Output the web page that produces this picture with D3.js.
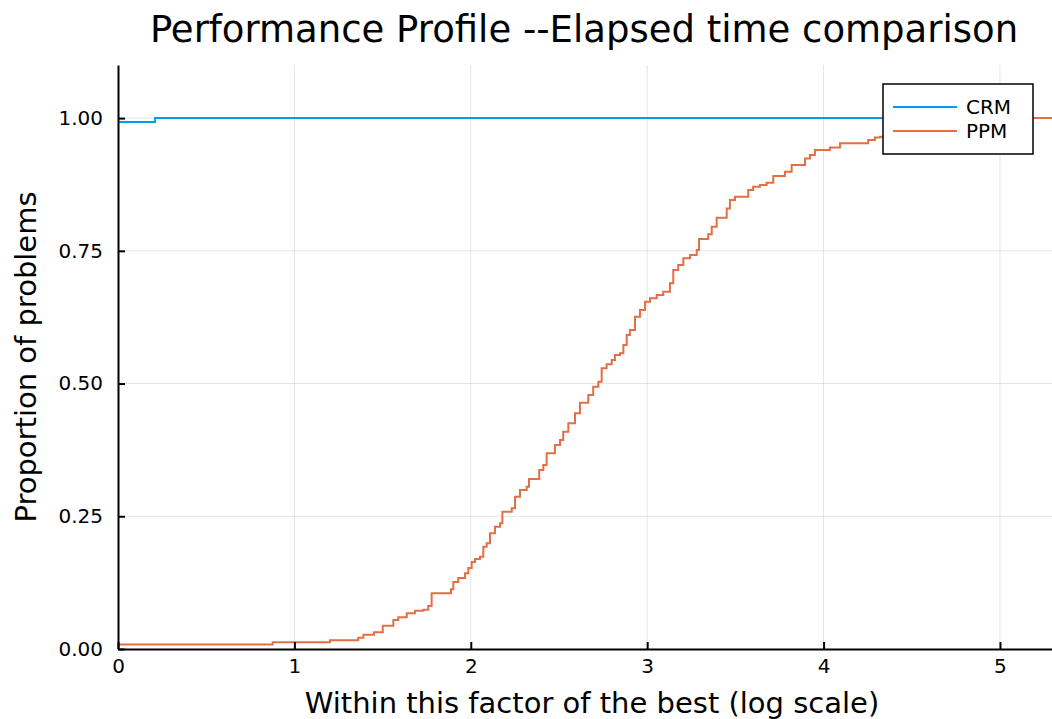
<!DOCTYPE html>
<html>
<head>
<meta charset="utf-8">
<script src="https://cdn.jsdelivr.net/npm/d3@7"></script>
<style>
  html, body { margin: 0; padding: 0; background: #fff; }
  svg { display: block; font-family: "DejaVu Sans", sans-serif; }
</style>
</head>
<body>
<svg id="chart" width="1052" height="719"></svg>
<script>
"use strict";

// ── Data ──────────────────────────────────────────────────────────────────────
const seriesNames = ["CRM", "PPM"];
const seriesColors = ["#009afa", "#e26f46"];

// step starts: log2 factor, proportion solved
const crmX = [0, 0.21];
const crmY = [0.9925, 1.0];

const ppmX = [
  0, 0.877, 1.202, 1.362, 1.391, 1.451, 1.501, 1.561, 1.589, 1.637,
  1.684, 1.731, 1.759, 1.778, 1.888, 1.901, 1.929, 1.967, 1.986, 2.005,
  2.024, 2.052, 2.071, 2.090, 2.109, 2.137, 2.166, 2.179, 2.232, 2.251,
  2.279, 2.317, 2.330, 2.388, 2.411, 2.430, 2.477, 2.506, 2.524, 2.553,
  2.591, 2.619, 2.666, 2.694, 2.723, 2.742, 2.770, 2.799, 2.817, 2.846,
  2.865, 2.884, 2.902, 2.931, 2.959, 2.988, 3.016, 3.054, 3.091, 3.129,
  3.148, 3.176, 3.205, 3.243, 3.281, 3.294, 3.346, 3.366, 3.394, 3.451,
  3.469, 3.498, 3.573, 3.601, 3.639, 3.677, 3.715, 3.781, 3.819, 3.895,
  3.923, 3.951, 4.036, 4.093, 4.253, 4.291, 4.320, 4.388, 4.490, 4.631,
  4.802, 4.972
];
const ppmY = [
  0.0085, 0.0126, 0.0164, 0.0213, 0.0269, 0.0315, 0.0439, 0.0546, 0.0597, 0.0672,
  0.0721, 0.0740, 0.0810, 0.1049, 0.1124, 0.1262, 0.1337, 0.1426, 0.1525, 0.1638,
  0.1695, 0.1738, 0.1927, 0.1991, 0.2179, 0.2303, 0.2367, 0.2586, 0.2650, 0.2868,
  0.2994, 0.3056, 0.3202, 0.3371, 0.3465, 0.3686, 0.3842, 0.3936, 0.4092, 0.4250,
  0.4439, 0.4638, 0.4783, 0.4940, 0.5034, 0.5286, 0.5362, 0.5443, 0.5537, 0.5569,
  0.5725, 0.5913, 0.6008, 0.6258, 0.6384, 0.6541, 0.6605, 0.6667, 0.6729, 0.6887,
  0.7137, 0.7232, 0.7358, 0.7420, 0.7514, 0.7721, 0.7810, 0.7953, 0.8122, 0.8299,
  0.8456, 0.8518, 0.8644, 0.8706, 0.8738, 0.8782, 0.8908, 0.8989, 0.9115, 0.9241,
  0.9303, 0.9397, 0.9448, 0.9524, 0.9586, 0.9636, 0.9648, 0.9718, 0.9774, 0.9849,
  0.9925, 1.0
];

const xTicks = [0, 1, 2, 3, 4, 5];
const yTicks = [0, 0.25, 0.5, 0.75, 1.0];
const xMax = 5.295;
const yMax = 1.1;

const titleText = "Performance Profile --Elapsed time comparison";
const xLabel = "Within this factor of the best (log scale)";
const yLabel = "Proportion of problems";

// ── Layout ────────────────────────────────────────────────────────────────────
const svg = d3.select("#chart");
const M = { left: 118, right: 1052, top: 65, bottom: 649 };

const x = d3.scaleLinear().domain([0, xMax]).range([M.left, M.right]);
const y = d3.scaleLinear().domain([0, yMax]).range([M.bottom, M.top]);

// ── Grid ──
const grid = svg.append("g").attr("class", "grid");
grid.selectAll(".gx").data(xTicks.filter((d) => d > 0)).enter().append("line")
  .attr("x1", (d) => x(d)).attr("x2", (d) => x(d))
  .attr("y1", M.top).attr("y2", M.bottom)
  .attr("stroke", "#000").attr("stroke-opacity", 0.1).attr("stroke-width", 1);
grid.selectAll(".gy").data(yTicks.filter((d) => d > 0)).enter().append("line")
  .attr("x1", M.left).attr("x2", M.right)
  .attr("y1", (d) => y(d)).attr("y2", (d) => y(d))
  .attr("stroke", "#000").attr("stroke-opacity", 0.1).attr("stroke-width", 1);

// ── Series ──
function stepData(xs, ys) {
  const pts = xs.map((v, i) => [v, ys[i]]);
  pts.push([xMax, ys[ys.length - 1]]);
  return pts;
}
const line = d3.line().x((d) => x(d[0])).y((d) => y(d[1])).curve(d3.curveStepAfter);

const series = [stepData(crmX, crmY), stepData(ppmX, ppmY)];
svg.append("g").attr("class", "series")
  .selectAll("path").data(series).enter().append("path")
  .attr("d", line)
  .attr("fill", "none")
  .attr("stroke", (_d, i) => seriesColors[i])
  .attr("stroke-width", 2);

// ── Axes ──
const xAxis = d3.axisBottom(x).tickValues(xTicks).tickFormat(d3.format("d"))
  .tickSizeInner(-7).tickSizeOuter(0).tickPadding(10);
const gx = svg.append("g").attr("transform", `translate(0,${M.bottom})`).call(xAxis);

const yAxis = d3.axisLeft(y).tickValues(yTicks).tickFormat(d3.format(".2f"))
  .tickSizeInner(-7).tickSizeOuter(0).tickPadding(15);
const gy = svg.append("g").attr("transform", `translate(${M.left},0)`).call(yAxis);

[gx, gy].forEach((g) => {
  g.attr("font-size", null).attr("font-family", null);
  g.select(".domain").attr("stroke", "#000").attr("stroke-width", 2);
  g.selectAll(".tick line").attr("stroke", "#000").attr("stroke-width", 2);
  g.selectAll(".tick text").attr("fill", "#000").style("font-size", "20px");
});
gx.selectAll(".tick text").attr("dy", "0.71em");

// ── Labels ──
svg.append("text")
  .attr("x", (M.left + M.right) / 2 - 1).attr("y", 42)
  .attr("text-anchor", "middle")
  .style("font-size", "37px")
  .text(titleText);

svg.append("text")
  .attr("x", (M.left + M.right) / 2 + 7).attr("y", 713)
  .attr("text-anchor", "middle")
  .style("font-size", "29px")
  .text(xLabel);

svg.append("text")
  .attr("transform", `translate(36,${(M.top + M.bottom) / 2}) rotate(-90)`)
  .attr("text-anchor", "middle")
  .style("font-size", "29px")
  .text(yLabel);

// ── Legend ──
const lg = svg.append("g").attr("transform", "translate(883,84)");
lg.append("rect")
  .attr("width", 150).attr("height", 70)
  .attr("fill", "#fff").attr("stroke", "#000").attr("stroke-width", 1.5);
seriesNames.forEach((name, i) => {
  const yy = 23 + i * 24;
  lg.append("line")
    .attr("x1", 10).attr("x2", 74).attr("y1", yy).attr("y2", yy)
    .attr("stroke", seriesColors[i]).attr("stroke-width", 2);
  lg.append("text")
    .attr("x", 83).attr("y", yy).attr("dy", "0.35em")
    .style("font-size", "20px")
    .text(name);
});
</script>
</body>
</html>
